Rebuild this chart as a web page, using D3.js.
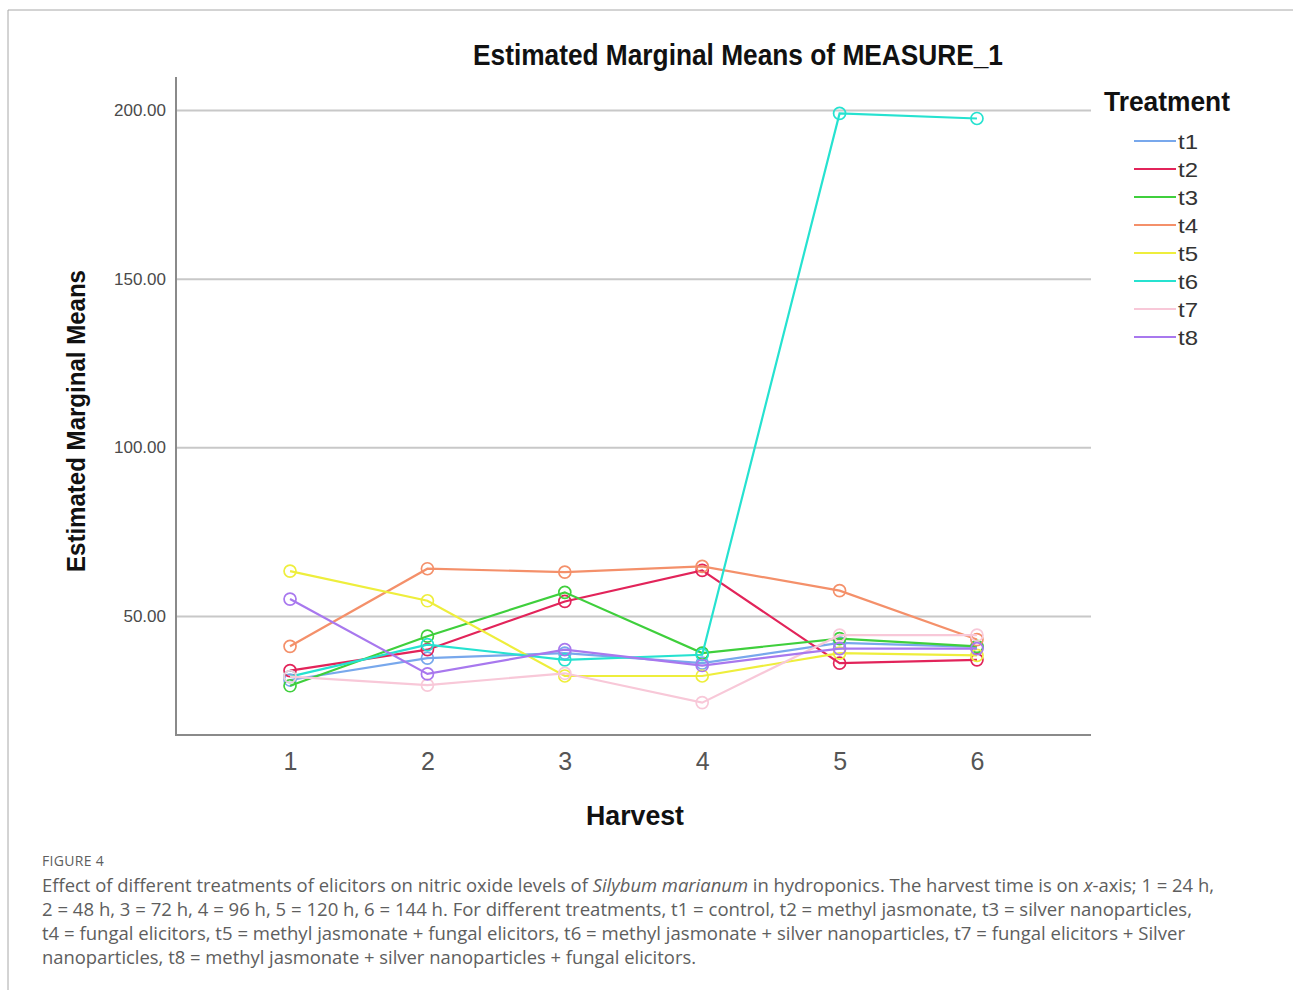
<!DOCTYPE html>
<html>
<head>
<meta charset="utf-8">
<script src="https://cdn.jsdelivr.net/npm/d3@7/dist/d3.min.js"></script>
<style>
  html, body { margin: 0; padding: 0; background: #fff; }
  svg { display: block; }
</style>
</head>
<body>
<svg id="chart" width="1293" height="990"></svg>
<script>
// Harvest points on the x-axis
const harvests = [1, 2, 3, 4, 5, 6];

// Estimated marginal means per treatment, one value per harvest
const t1 = [31.0, 37.5, 39.0, 36.0, 42.0, 40.8];
const t2 = [33.8, 40.0, 54.3, 63.5, 36.0, 37.0];
const t3 = [29.3, 44.0, 57.0, 39.0, 43.3, 41.0];
const t4 = [41.0, 64.0, 63.0, 64.7, 57.5, 43.0];
const t5 = [63.3, 54.5, 32.2, 32.2, 39.0, 38.3];
const t6 = [32.0, 41.5, 37.0, 38.5, 199.0, 197.5];
const t7 = [32.0, 29.5, 33.0, 24.3, 44.3, 44.3];
const t8 = [55.0, 32.8, 40.0, 35.3, 40.3, 40.3];

const treatmentNames = ["t1", "t2", "t3", "t4", "t5", "t6", "t7", "t8"];
const treatmentValues = [t1, t2, t3, t4, t5, t6, t7, t8];
const treatmentColors = ["#78a8ec", "#e2245a", "#3fcf3c", "#f4906a",
                         "#eeee3c", "#26e2d0", "#f8c8d8", "#a878ee"];

const yTicks = [50, 100, 150, 200];

const svg = d3.select("#chart");

// Outer figure frame
svg.append("line").attr("x1", 8).attr("x2", 1293).attr("y1", 10).attr("y2", 10)
  .attr("stroke", "#a8a8a8").attr("stroke-width", 1);
svg.append("line").attr("x1", 8).attr("x2", 8).attr("y1", 10).attr("y2", 990)
  .attr("stroke", "#a8a8a8").attr("stroke-width", 1);

const plotLeft = 176, plotRight = 1091, plotTop = 77, plotBottom = 735;

const x = d3.scaleLinear().domain([0.17, 6.83]).range([plotLeft, plotRight]);
const y = d3.scaleLinear().domain([14.7, 209.8]).range([plotBottom, plotTop]);

// Horizontal reference lines
svg.append("g")
  .attr("transform", `translate(${plotLeft},0)`)
  .call(d3.axisLeft(y).tickValues(yTicks).tickSize(-(plotRight - plotLeft)).tickFormat(""))
  .call(g => g.select(".domain").remove())
  .call(g => g.selectAll("line").attr("stroke", "#c8c8c8").attr("stroke-width", 2));

// Y axis labels
svg.append("g")
  .attr("transform", `translate(${plotLeft},0)`)
  .call(d3.axisLeft(y).tickValues(yTicks).tickSize(0).tickPadding(10).tickFormat(d3.format(".2f")))
  .call(g => g.select(".domain").remove())
  .call(g => g.selectAll("text")
    .attr("font-family", "Liberation Sans, Arial, sans-serif")
    .attr("font-size", 17)
    .attr("fill", "#4a4a4a"));

// X axis labels
svg.append("g")
  .attr("transform", `translate(0,${plotBottom})`)
  .call(d3.axisBottom(x).tickValues(harvests).tickSize(0).tickPadding(17).tickFormat(d3.format("d")))
  .call(g => g.select(".domain").remove())
  .call(g => g.selectAll("text")
    .attr("font-family", "Liberation Sans, Arial, sans-serif")
    .attr("font-size", 25)
    .attr("fill", "#555"));

// Axis lines
svg.append("line").attr("x1", plotLeft).attr("x2", plotLeft).attr("y1", plotTop).attr("y2", plotBottom)
  .attr("stroke", "#8a8a8a").attr("stroke-width", 2);
svg.append("line").attr("x1", plotLeft - 1).attr("x2", plotRight).attr("y1", plotBottom).attr("y2", plotBottom)
  .attr("stroke", "#8a8a8a").attr("stroke-width", 2);

// Series lines and markers
const line = d3.line().x((d, i) => x(harvests[i])).y(d => y(d));
treatmentValues.forEach((vals, k) => {
  const g = svg.append("g");
  g.append("path").datum(vals)
    .attr("d", line)
    .attr("fill", "none")
    .attr("stroke", treatmentColors[k])
    .attr("stroke-width", 2.2);
  g.selectAll("circle").data(vals).join("circle")
    .attr("cx", (d, i) => x(harvests[i]))
    .attr("cy", d => y(d))
    .attr("r", 6)
    .attr("fill", "none")
    .attr("stroke", treatmentColors[k])
    .attr("stroke-width", 1.7);
});

// Titles
svg.append("text")
  .attr("x", 738).attr("y", 65)
  .attr("text-anchor", "middle")
  .attr("font-family", "Liberation Sans, Arial, sans-serif")
  .attr("font-weight", "bold").attr("font-size", 29)
  .attr("textLength", 530).attr("lengthAdjust", "spacingAndGlyphs")
  .attr("fill", "#111")
  .text("Estimated Marginal Means of MEASURE_1");

svg.append("text")
  .attr("transform", "translate(85,421) rotate(-90)")
  .attr("text-anchor", "middle")
  .attr("font-family", "Liberation Sans, Arial, sans-serif")
  .attr("font-weight", "bold").attr("font-size", 26)
  .attr("textLength", 302).attr("lengthAdjust", "spacingAndGlyphs")
  .attr("fill", "#111")
  .text("Estimated Marginal Means");

svg.append("text")
  .attr("x", 635).attr("y", 825)
  .attr("text-anchor", "middle")
  .attr("font-family", "Liberation Sans, Arial, sans-serif")
  .attr("font-weight", "bold").attr("font-size", 27)
  .attr("textLength", 98).attr("lengthAdjust", "spacingAndGlyphs")
  .attr("fill", "#111")
  .text("Harvest");

// Legend
const legend = svg.append("g");
legend.append("text")
  .attr("x", 1104).attr("y", 111)
  .attr("font-family", "Liberation Sans, Arial, sans-serif")
  .attr("font-weight", "bold").attr("font-size", 27)
  .attr("textLength", 126).attr("lengthAdjust", "spacingAndGlyphs")
  .attr("fill", "#111")
  .text("Treatment");

const ly = d3.scalePoint().domain(treatmentNames).range([141, 337]);
treatmentNames.forEach((name, k) => {
  legend.append("line")
    .attr("x1", 1134).attr("x2", 1176)
    .attr("y1", ly(name)).attr("y2", ly(name))
    .attr("stroke", treatmentColors[k]).attr("stroke-width", 2);
  legend.append("text")
    .attr("x", 1178).attr("y", ly(name))
    .attr("dy", "0.36em")
    .attr("font-family", "Liberation Sans, Arial, sans-serif")
    .attr("font-size", 21)
    .attr("textLength", 20).attr("lengthAdjust", "spacingAndGlyphs")
    .attr("fill", "#333")
    .text(name);
});

// Caption
const cap = svg.append("g")
  .attr("font-family", "Open Sans, Lato, sans-serif")
  .attr("fill", "#5e5e5e");
cap.append("text")
  .attr("x", 42).attr("y", 866)
  .attr("font-size", 14).attr("letter-spacing", 0.3)
  .text("FIGURE 4");

const captionLines = [
  [["Effect of different treatments of elicitors on nitric oxide levels of ", false], ["Silybum marianum", true], [" in hydroponics. The harvest time is on ", false], ["x", true], ["-axis; 1 = 24 h,", false]],
  [["2 = 48 h, 3 = 72 h, 4 = 96 h, 5 = 120 h, 6 = 144 h. For different treatments, t1 = control, t2 = methyl jasmonate, t3 = silver nanoparticles,", false]],
  [["t4 = fungal elicitors, t5 = methyl jasmonate + fungal elicitors, t6 = methyl jasmonate + silver nanoparticles, t7 = fungal elicitors + Silver", false]],
  [["nanoparticles, t8 = methyl jasmonate + silver nanoparticles + fungal elicitors.", false]]
];
const captionWidths = [1172, 1150, 1143, 654];
captionLines.forEach((parts, i) => {
  const t = cap.append("text")
    .attr("x", 42).attr("y", 892 + i * 24)
    .attr("font-size", 17.5);
  parts.forEach(([s, it]) => {
    t.append("tspan").attr("font-style", it ? "italic" : "normal").text(s);
  });
  t.attr("textLength", captionWidths[i]).attr("lengthAdjust", "spacingAndGlyphs");
});
</script>
</body>
</html>
